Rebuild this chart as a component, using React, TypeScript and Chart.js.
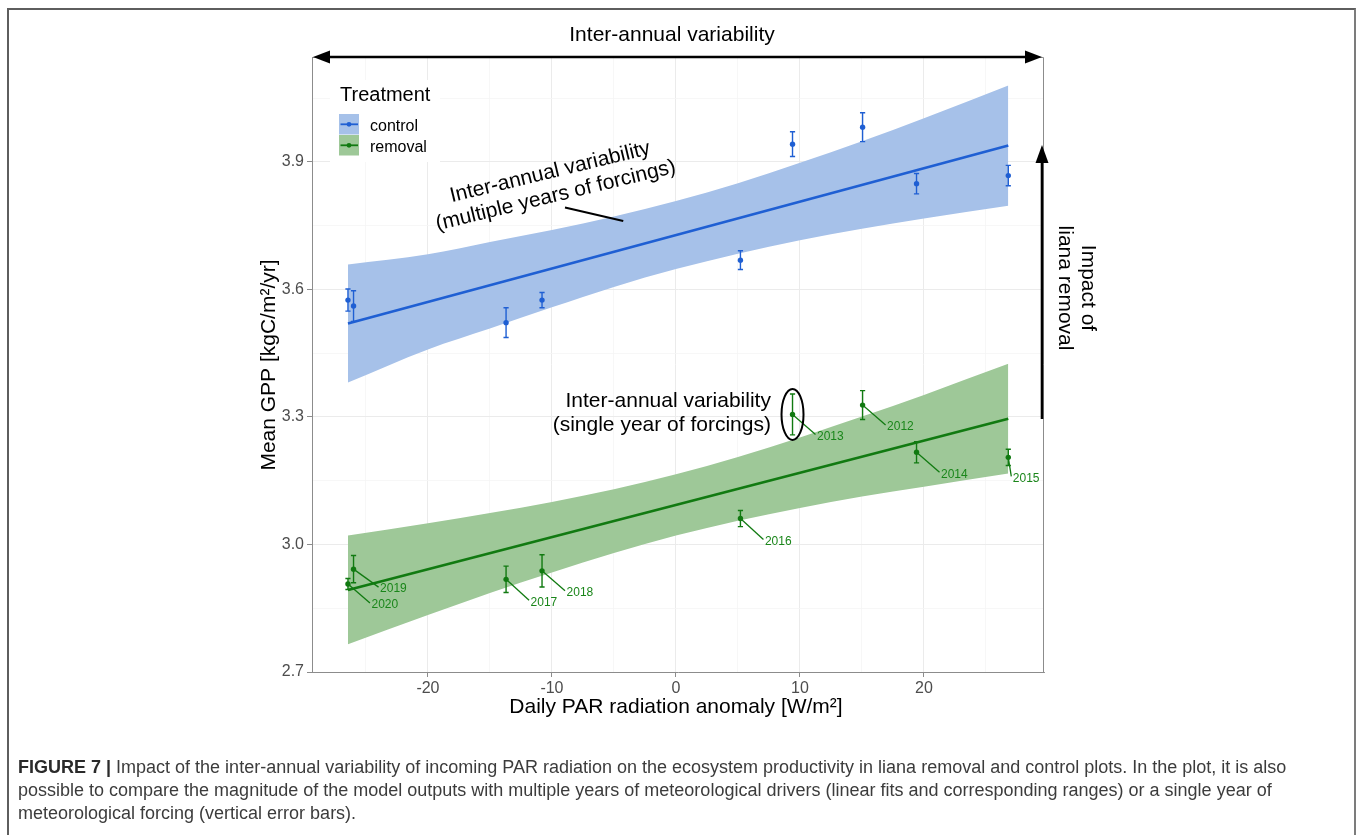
import React, { useEffect, useRef } from "react";
import { Chart, registerables } from "chart.js";

Chart.register(...registerables);

const FONT = "'Liberation Sans', Arial, Helvetica, sans-serif";

// ---- data ----
const years = ["2020", "2019", "2017", "2018", "2016", "2013", "2012", "2014", "2015"];
const parAnomaly = [-26.45, -26.0, -13.7, -10.8, 5.2, 9.4, 15.05, 19.4, 26.8];

const controlGPP = [3.575, 3.561, 3.522, 3.575, 3.669, 3.942, 3.982, 3.849, 3.868];
const controlErr = [0.026, 0.036, 0.035, 0.018, 0.022, 0.029, 0.034, 0.024, 0.024];
const removalGPP = [2.907, 2.942, 2.918, 2.938, 3.061, 3.306, 3.328, 3.217, 3.205];
const removalErr = [0.013, 0.032, 0.031, 0.038, 0.019, 0.048, 0.034, 0.025, 0.019];

const fitX = [-26.45, 26.8];
const controlFit = [3.52, 3.939];
const removalFit = [2.893, 3.296];

const bandX = [-26.45, -20, -15, -10, -5, 0, 5, 10, 15, 20, 26.8];
const controlUpper = [3.659, 3.683, 3.712, 3.74, 3.772, 3.808, 3.85, 3.898, 3.949, 4.003, 4.08];
const controlLower = [3.381, 3.459, 3.508, 3.558, 3.606, 3.648, 3.684, 3.716, 3.743, 3.767, 3.797];
const removalUpper = [3.021, 3.05, 3.074, 3.1, 3.13, 3.165, 3.206, 3.252, 3.301, 3.352, 3.425];
const removalLower = [2.765, 2.834, 2.886, 2.934, 2.98, 3.021, 3.056, 3.086, 3.113, 3.136, 3.167];

const xMajor = [-20, -10, 0, 10, 20];
const xMinor = [-25, -15, -5, 5, 15, 25];
const yMajor = [2.7, 3.0, 3.3, 3.6, 3.9];
const yMinor = [2.85, 3.15, 3.45, 3.75, 4.05];

const seriesNames = ["control", "removal"];

// ---- styles / layout ----
const W = 1358;
const H = 835;
const AREA = { left: 312, right: 1044, top: 57, bottom: 672 };
const BLUE = "#1f5fd3";
const BLUE_BAND = "#a6c1e9";
const GREEN = "#117a11";
const GREEN_BAND = "#9ec898";
const GREEN_TEXT = "#1a861a";
const AXIS_GREY = "#8c8c8c";

// leader-line offsets (px) for year labels, same order as `years`
const yearLabelOffsets = [
  [22, 19], [25, 18], [23, 21], [23, 20], [23, 21], [23, 20], [23, 20], [23, 20], [3, 19],
];

function arrowHead(ctx: CanvasRenderingContext2D, tx: number, ty: number, dx: number, dy: number, len: number, half: number) {
  const px = -dy, py = dx;
  ctx.beginPath();
  ctx.moveTo(tx, ty);
  ctx.lineTo(tx - dx * len + px * half, ty - dy * len + py * half);
  ctx.lineTo(tx - dx * len - px * half, ty - dy * len - py * half);
  ctx.closePath();
  ctx.fill();
}

const annotate = {
  id: "annotate",
  afterDatasetsDraw(chart: any) {
    const { ctx, scales } = chart;
    const x = scales.x, y = scales.y;
    const errBars = (vals: number[], errs: number[], color: string) => {
      ctx.save();
      ctx.strokeStyle = color;
      ctx.lineWidth = 1.4;
      vals.forEach((v, i) => {
        const px = x.getPixelForValue(parAnomaly[i]);
        const t = y.getPixelForValue(v + errs[i]);
        const b = y.getPixelForValue(v - errs[i]);
        ctx.beginPath();
        ctx.moveTo(px, t); ctx.lineTo(px, b);
        ctx.moveTo(px - 2.6, t); ctx.lineTo(px + 2.6, t);
        ctx.moveTo(px - 2.6, b); ctx.lineTo(px + 2.6, b);
        ctx.stroke();
      });
      ctx.restore();
    };
    errBars(controlGPP, controlErr, BLUE);
    errBars(removalGPP, removalErr, GREEN);
  },
  afterDraw(chart: any) {
    const { ctx, scales, chartArea: a } = chart;
    const x = scales.x, y = scales.y;
    ctx.save();

    // panel border top/right
    ctx.strokeStyle = AXIS_GREY;
    ctx.lineWidth = 1;
    ctx.beginPath();
    ctx.moveTo(a.left, a.top + 0.5); ctx.lineTo(a.right - 0.5, a.top + 0.5); ctx.lineTo(a.right - 0.5, a.bottom);
    ctx.stroke();

    // year labels with leader lines
    ctx.strokeStyle = GREEN;
    ctx.fillStyle = GREEN_TEXT;
    ctx.lineWidth = 1.3;
    ctx.font = `12px ${FONT}`;
    ctx.textAlign = "left";
    ctx.textBaseline = "middle";
    years.forEach((yr, i) => {
      const px = x.getPixelForValue(parAnomaly[i]);
      const py = y.getPixelForValue(removalGPP[i]);
      const [dx, dy] = yearLabelOffsets[i];
      ctx.beginPath();
      ctx.moveTo(px, py); ctx.lineTo(px + dx, py + dy);
      ctx.stroke();
      ctx.fillText(yr, px + dx + 1.5, py + dy + 2);
    });

    // legend
    ctx.fillStyle = "#ffffff";
    ctx.fillRect(330, 80, 110, 82);
    ctx.fillStyle = "#000";
    ctx.font = `20px ${FONT}`;
    ctx.textBaseline = "middle";
    ctx.fillText("Treatment", 340, 95);
    const keys = [
      { band: BLUE_BAND, col: BLUE, top: 114 },
      { band: GREEN_BAND, col: GREEN, top: 135 },
    ];
    keys.forEach((k, i) => {
      ctx.fillStyle = k.band;
      ctx.fillRect(339, k.top, 20, 20.5);
      ctx.strokeStyle = k.col;
      ctx.lineWidth = 1.8;
      ctx.beginPath();
      ctx.moveTo(340.5, k.top + 10.3); ctx.lineTo(358, k.top + 10.3);
      ctx.stroke();
      ctx.fillStyle = k.col;
      ctx.beginPath();
      ctx.arc(349, k.top + 10.3, 2.4, 0, Math.PI * 2);
      ctx.fill();
      ctx.fillStyle = "#000";
      ctx.font = `16px ${FONT}`;
      ctx.fillText(seriesNames[i], 370, k.top + 12.5);
    });

    // top double arrow + title
    ctx.fillStyle = "#000";
    ctx.strokeStyle = "#000";
    ctx.lineWidth = 2.6;
    const ay = a.top;
    ctx.beginPath();
    ctx.moveTo(a.left + 10, ay); ctx.lineTo(a.right - 12, ay);
    ctx.stroke();
    arrowHead(ctx, a.left + 1, ay, -1, 0, 17, 6.5);
    arrowHead(ctx, a.right - 2, ay, 1, 0, 17, 6.5);
    ctx.font = `21px ${FONT}`;
    ctx.textAlign = "center";
    ctx.textBaseline = "middle";
    ctx.fillText("Inter-annual variability", 672, 35);

    // right vertical arrow
    const rx = a.right - 2;
    const yb = y.getPixelForValue(3.295);
    const yt = y.getPixelForValue(3.94);
    ctx.beginPath();
    ctx.moveTo(rx, yb); ctx.lineTo(rx, yt + 12);
    ctx.stroke();
    arrowHead(ctx, rx, yt, 0, -1, 18, 6.5);
    ctx.textAlign = "center";
    ctx.textBaseline = "alphabetic";
    [["Impact of", 1082], ["liana removal", 1059]].forEach(([t, bx]) => {
      ctx.save();
      ctx.translate(bx as number, 288);
      ctx.rotate(Math.PI / 2);
      ctx.fillText(t as string, 0, 0);
      ctx.restore();
    });

    // multiple-years annotation
    const mx = x.getPixelForValue(-9.92), my = y.getPixelForValue(3.848);
    ctx.save();
    ctx.translate(mx, my);
    ctx.rotate((-13.6 * Math.PI) / 180);
    ctx.textBaseline = "middle";
    ctx.fillText("Inter-annual variability", 0, -12);
    ctx.fillText("(multiple years of forcings)", 0, 12);
    ctx.restore();
    ctx.lineWidth = 2;
    ctx.beginPath();
    ctx.moveTo(x.getPixelForValue(-8.95), y.getPixelForValue(3.793));
    ctx.lineTo(x.getPixelForValue(-4.25), y.getPixelForValue(3.761));
    ctx.stroke();

    // single-year annotation
    ctx.textAlign = "right";
    ctx.textBaseline = "middle";
    const sx = x.getPixelForValue(7.66);
    ctx.fillText("Inter-annual variability", sx, y.getPixelForValue(3.336));
    ctx.fillText("(single year of forcings)", sx, y.getPixelForValue(3.28));
    ctx.beginPath();
    ctx.ellipse(x.getPixelForValue(parAnomaly[5]), y.getPixelForValue(removalGPP[5]), 11, 25.5, 0, 0, Math.PI * 2);
    ctx.stroke();

    // axis titles
    ctx.textAlign = "center";
    ctx.textBaseline = "middle";
    ctx.fillText("Daily PAR radiation anomaly [W/m\u00b2]", 676, 707);
    ctx.save();
    ctx.translate(269, 365);
    ctx.rotate(-Math.PI / 2);
    ctx.fillText("Mean GPP [kgC/m\u00b2/yr]", 0, 0);
    ctx.restore();

    ctx.restore();
  },
};

const pts = (xs: number[], ys: number[]) => xs.map((v, i) => ({ x: v, y: ys[i] }));

export default function App() {
  const ref = useRef<HTMLCanvasElement>(null);
  useEffect(() => {
    const isMaj = (arr: number[], v: number) => arr.some((m) => Math.abs(m - v) < 1e-9);
    const band = (d: number[], color: string | false, fill: any) => ({
      type: "line",
      data: pts(bandX, d),
      borderColor: "rgba(0,0,0,0)",
      borderWidth: 0,
      pointRadius: 0,
      cubicInterpolationMode: "monotone",
      backgroundColor: color || "rgba(0,0,0,0)",
      fill,
      order: 5,
    });
    const chart = new Chart(ref.current as HTMLCanvasElement, {
      type: "scatter",
      data: {
        datasets: [
          band(controlUpper, BLUE_BAND, "+1"),
          band(controlLower, false, false),
          band(removalUpper, GREEN_BAND, "+1"),
          band(removalLower, false, false),
          { type: "line", data: pts(fitX, controlFit), borderColor: BLUE, borderWidth: 2.6, pointRadius: 0, fill: false, order: 3 },
          { type: "line", data: pts(fitX, removalFit), borderColor: GREEN, borderWidth: 2.6, pointRadius: 0, fill: false, order: 3 },
          { type: "scatter", label: seriesNames[0], data: pts(parAnomaly, controlGPP), pointRadius: 2.7, pointBorderWidth: 0, backgroundColor: BLUE, order: 1 },
          { type: "scatter", label: seriesNames[1], data: pts(parAnomaly, removalGPP), pointRadius: 2.7, pointBorderWidth: 0, backgroundColor: GREEN, order: 1 },
        ] as any,
      },
      options: {
        responsive: false,
        animation: false,
        devicePixelRatio: 1,
        events: [],
        layout: { padding: { left: 0, top: AREA.top, right: W - AREA.right, bottom: 0 } },
        plugins: { legend: { display: false }, tooltip: { enabled: false } },
        scales: {
          x: {
            type: "linear",
            min: -29.35,
            max: 29.68,
            bounds: "data",
            afterBuildTicks: (s: any) => {
              s.ticks = [...xMinor, ...xMajor].sort((p, q) => p - q).map((v) => ({ value: v }));
            },
            afterFit: (s: any) => { s.height = H - AREA.bottom; },
            grid: {
              color: (c: any) => (isMaj(xMajor, c.tick?.value) ? "#ebebeb" : "#f5f5f5"),
              lineWidth: (c: any) => (isMaj(xMajor, c.tick?.value) ? 1 : 0.8),
              tickColor: (c: any) => (isMaj(xMajor, c.tick?.value) ? AXIS_GREY : "rgba(0,0,0,0)"),
              tickLength: 5,
            },
            border: { display: true, color: AXIS_GREY, width: 1 },
            ticks: {
              autoSkip: false,
              maxRotation: 0,
              padding: 2,
              color: "#4d4d4d",
              font: { family: FONT, size: 16 },
              callback: (v: any) => (isMaj(xMajor, v) ? String(v) : ""),
            },
          },
          y: {
            type: "linear",
            min: 2.7,
            max: 4.147,
            bounds: "data",
            afterBuildTicks: (s: any) => {
              s.ticks = [...yMinor, ...yMajor].sort((p, q) => p - q).map((v) => ({ value: v }));
            },
            afterFit: (s: any) => { s.width = AREA.left; },
            grid: {
              color: (c: any) => (isMaj(yMajor, c.tick?.value) ? "#ebebeb" : "#f5f5f5"),
              lineWidth: (c: any) => (isMaj(yMajor, c.tick?.value) ? 1 : 0.8),
              tickColor: (c: any) => (isMaj(yMajor, c.tick?.value) ? AXIS_GREY : "rgba(0,0,0,0)"),
              tickLength: 5,
            },
            border: { display: true, color: AXIS_GREY, width: 1 },
            ticks: {
              autoSkip: false,
              padding: 3,
              color: "#4d4d4d",
              font: { family: FONT, size: 16 },
              callback: (v: any) => (isMaj(yMajor, v) ? Number(v).toFixed(1) : ""),
            },
          },
        },
      } as any,
      plugins: [annotate as any],
    });
    return () => chart.destroy();
  }, []);

  return (
    <div style={{ position: "absolute", left: 0, top: 0, width: W, height: H, overflow: "hidden", background: "#fff" }}>
      <div
        style={{
          position: "absolute", left: 7, top: 8, width: 1345, height: 900,
          borderTop: "2px solid #5e5e5e", borderLeft: "2px solid #5e5e5e", borderRight: "2px solid #7c7c7c",
        }}
      />
      <canvas ref={ref} width={W} height={H} style={{ position: "absolute", left: 0, top: 0, width: W, height: H }} />
      <div
        style={{
          position: "absolute", left: 18, top: 756, fontFamily: FONT, fontSize: 18, lineHeight: "23px",
          color: "#3c3c3c", whiteSpace: "nowrap",
        }}
      >
        <b style={{ color: "#2a2a2a" }}>FIGURE 7 |</b> Impact of the inter-annual variability of incoming PAR radiation on the ecosystem productivity in liana removal and control plots. In the plot, it is also
        <br />
        possible to compare the magnitude of the model outputs with multiple years of meteorological drivers (linear fits and corresponding ranges) or a single year of
        <br />
        meteorological forcing (vertical error bars).
      </div>
    </div>
  );
}
